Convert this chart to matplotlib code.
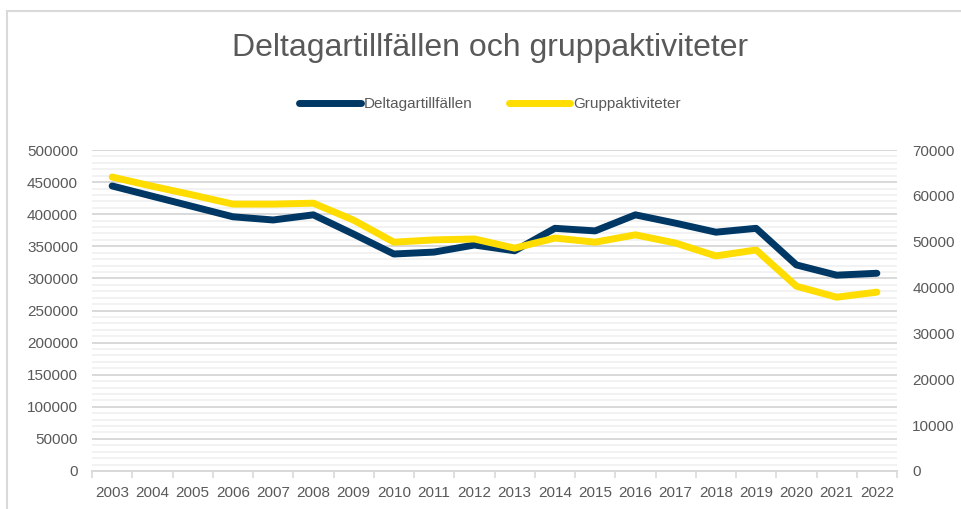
import numpy as np
import matplotlib.pyplot as plt
import matplotlib.ticker as ticker
from matplotlib.patches import Rectangle

plt.rcParams['font.family'] = ['Liberation Sans', 'DejaVu Sans']

years = [str(y) for y in range(2003, 2023)]
deltagartillfallen = [444000, 428000, 412000, 396000, 391000, 399000, 369000, 338000,
                      341000, 352000, 343000, 378000, 374000, 399000, 386000, 372000,
                      378000, 321000, 305000, 308000]
gruppaktiviteter = [64100, 62100, 60200, 58200, 58200, 58400, 54700, 49900,
                    50400, 50600, 48600, 50800, 49900, 51500, 49700, 46900,
                    48200, 40300, 37900, 39000]

DARK = '#003865'
YELLOW = '#FFDD00'
TEXT = '#595959'
FS = 11

W, H = 961, 509
fig = plt.figure(figsize=(W / 100, H / 100), dpi=100)

# chart frame (cut off at right and bottom, like the screenshot)
fig.patches.append(Rectangle((7 / W, -0.1), 1.2, 1 - 11 / H + 0.1,
                             transform=fig.transFigure, fill=False,
                             edgecolor='#d9d9d9', linewidth=1.5))

ax = fig.add_axes([92 / W, 1 - 471 / H, (897 - 92) / W, (471 - 150) / H])
ax2 = ax.twinx()

x = np.arange(len(years))
ax.plot(x, deltagartillfallen, color=DARK, linewidth=5, solid_capstyle='round',
        label='Deltagartillfällen', zorder=3)
ax2.plot(x, gruppaktiviteter, color=YELLOW, linewidth=5, solid_capstyle='round',
         label='Gruppaktiviteter', zorder=3)

ax.set_xlim(-0.5, len(years) - 0.5)
ax.set_ylim(0, 500000)
ax2.set_ylim(0, 70000)

ax.yaxis.set_major_locator(ticker.MultipleLocator(50000))
ax.yaxis.set_minor_locator(ticker.MultipleLocator(10000))
ax2.yaxis.set_major_locator(ticker.MultipleLocator(10000))
ax.grid(which='major', axis='y', color='#d9d9d9', linewidth=1.4)
ax.grid(which='minor', axis='y', color='#f0f0f0', linewidth=1.2)
ax.set_axisbelow(True)

ax.set_xticks(x)
ax.set_xticklabels(years)
ax.xaxis.set_minor_locator(ticker.FixedLocator(np.arange(-0.5, len(years), 1)))
ax.tick_params(axis='x', which='major', length=0, pad=11, labelsize=FS, labelcolor=TEXT)
ax.tick_params(axis='x', which='minor', length=5, width=1.2, color='#d9d9d9')
ax.tick_params(axis='y', which='both', length=0, pad=10, labelsize=FS, labelcolor=TEXT)
ax2.tick_params(axis='y', which='both', length=0, pad=11, labelsize=FS, labelcolor=TEXT)

for a in (ax, ax2):
    for side in ('left', 'right', 'top'):
        a.spines[side].set_visible(False)
    a.spines['bottom'].set_color('#d9d9d9')
    a.spines['bottom'].set_linewidth(1.4)

fig.text(0.51, 1 - 48 / H, 'Deltagartillfällen och gruppaktiviteter', ha='center',
         va='center', fontsize=23, color=TEXT)

h1, l1 = ax.get_legend_handles_labels()
h2, l2 = ax2.get_legend_handles_labels()
fig.legend(h1 + h2, l1 + l2, loc='center', bbox_to_anchor=(0.51, 1 - 104 / H), ncol=2,
           frameon=False, fontsize=FS, labelcolor=TEXT, handlelength=4.0,
           handletextpad=0.2, columnspacing=2.4)

fig.savefig('out.png', dpi=100)
